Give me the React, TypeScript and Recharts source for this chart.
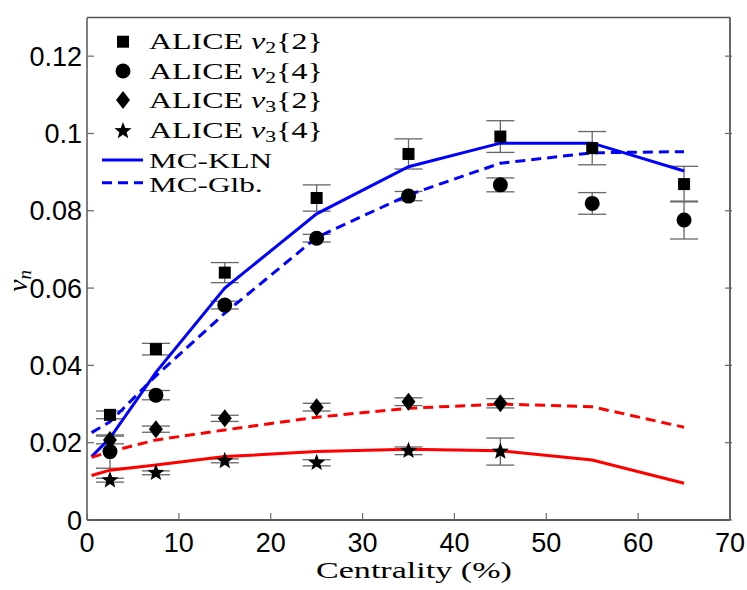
import React from 'react';
import { ComposedChart, XAxis, YAxis, Scatter, Line, ErrorBar } from 'recharts';

// ALICE data (centrality bins)
const centrality = [2.5, 7.5, 15, 25, 35, 45, 55, 65];
const v2of2 = [0.0272, 0.0442, 0.064, 0.0833, 0.0947, 0.0992, 0.0962, 0.0869];
const v2of2Err = [0.001, 0.0015, 0.0026, 0.0034, 0.0039, 0.0041, 0.0043, 0.0046];
const v2of4 = [0.0177, 0.0323, 0.0556, 0.0729, 0.0838, 0.0867, 0.0819, 0.0776];
const v2of4Err = [0.0043, 0.0012, 0.001, 0.001, 0.0012, 0.0018, 0.0028, 0.0049];
const v3Centrality = [2.5, 7.5, 15, 25, 35, 45];
const v3of2 = [0.0207, 0.0235, 0.0263, 0.0292, 0.0306, 0.0302];
const v3of2Err = [0.001, 0.0008, 0.0008, 0.001, 0.001, 0.0012];
const v3of4 = [0.0103, 0.0122, 0.0153, 0.0148, 0.0179, 0.0177];
const v3of4Err = [0.0005, 0.0005, 0.0005, 0.0008, 0.001, 0.0035];

// Model curves
const modelCentrality = [0.5, 2.5, 7.5, 15, 25, 35, 45, 55, 65];
const klnV2 = [0.0164, 0.0212, 0.0382, 0.06, 0.0792, 0.0914, 0.0975, 0.0975, 0.0903];
const glbV2 = [0.0226, 0.0254, 0.0373, 0.0535, 0.0731, 0.0841, 0.0923, 0.095, 0.0953];
const klnV3 = [0.0115, 0.0129, 0.0142, 0.0164, 0.0177, 0.0183, 0.0179, 0.0155, 0.0095];
const glbV3 = [0.0162, 0.0177, 0.0207, 0.0233, 0.0266, 0.0289, 0.03, 0.0293, 0.024];

const xTicks = [0, 10, 20, 30, 40, 50, 60, 70];
const yTicks = [0, 0.02, 0.04, 0.06, 0.08, 0.1, 0.12];

const toPoints = (xs: number[], ys: number[], errs?: number[]) =>
  xs.map((x, i) => ({ x, y: ys[i], err: errs ? errs[i] : 0 }));

const W = 747;
const H = 590;
const PL = 87;
const PR = 724;
const PT = 17.5;
const PB = 520;

const SANS = 'Liberation Sans, Arial, Helvetica, sans-serif';
const SERIF = 'Liberation Serif, Times New Roman, serif';

const fmtY = (v: number) => (v === 0 ? '0' : String(+v.toFixed(2)));

const LeftTick = (props: any) => {
  const { y, payload } = props;
  return (
    <g>
      <line x1={PL} x2={PL + 7} y1={y} y2={y} stroke="#666" strokeWidth={1.2} />
      <text x={PL - 5} y={y + 9.5} textAnchor="end" fontFamily={SANS} fontSize={27} fill="#000">
        {fmtY(payload.value)}
      </text>
    </g>
  );
};

const RightTick = (props: any) => {
  const { y, x } = props;
  return <line x1={x - 7} x2={x} y1={y} y2={y} stroke="#666" strokeWidth={1.2} />;
};

const BottomTick = (props: any) => {
  const { x, payload } = props;
  return (
    <g>
      <line x1={x} x2={x} y1={PB} y2={PB - 7} stroke="#666" strokeWidth={1.2} />
      <text x={x} y={552} textAnchor="middle" fontFamily={SANS} fontSize={27} fill="#000">
        {payload.value}
      </text>
    </g>
  );
};

const TopTick = (props: any) => {
  const { x } = props;
  return <line x1={x} x2={x} y1={PT} y2={PT + 7} stroke="#666" strokeWidth={1.2} />;
};

const SquareShape = (p: any) => (
  <rect x={p.cx - 6} y={p.cy - 6} width={12} height={12} fill="#000" />
);
const CircleShape = (p: any) => <circle cx={p.cx} cy={p.cy} r={7.5} fill="#000" />;
const DiamondShape = (p: any) => (
  <polygon
    points={`${p.cx},${p.cy - 9} ${p.cx + 7},${p.cy} ${p.cx},${p.cy + 9} ${p.cx - 7},${p.cy}`}
    fill="#000"
  />
);
const starPoints = (cx: number, cy: number, R: number, r: number) => {
  const pts: string[] = [];
  for (let i = 0; i < 10; i++) {
    const a = -Math.PI / 2 + (i * Math.PI) / 5;
    const rad = i % 2 === 0 ? R : r;
    pts.push(`${cx + rad * Math.cos(a)},${cy + rad * Math.sin(a)}`);
  }
  return pts.join(' ');
};
const StarShape = (p: any) => <polygon points={starPoints(p.cx, p.cy, 9, 3.8)} fill="#000" />;

const LegendRow = ({ y, main, sub, arg }: { y: number; main: string; sub: string; arg: string }) => (
  <g transform={`translate(149, ${y}) scale(1.36, 1)`}>
    <text x={0} y={0} fontFamily={SERIF} fontSize={23.5} fill="#000">
      {main}
      <tspan fontStyle="italic"> v</tspan>
      <tspan fontSize={16} dy={4}>{sub}</tspan>
      <tspan dy={-4}>{arg}</tspan>
    </text>
  </g>
);

export default function App() {
  const errStyle = { stroke: '#666', strokeWidth: 1.3 };
  return (
    <div style={{ position: 'absolute', left: 0, top: 0, width: W, height: H, background: '#fff' }}>
      <ComposedChart width={W} height={H} margin={{ top: PT - 1, right: W - PR - 7, bottom: 0, left: 0 }}>
        <XAxis
          xAxisId={0}
          dataKey="x"
          type="number"
          domain={[0, 70]}
          ticks={xTicks}
          height={H - PB}
          axisLine={{ stroke: '#222', strokeWidth: 1.5 }}
          tickLine={false}
          tickSize={0}
          tick={<BottomTick />}
          allowDataOverflow
        />
        <XAxis
          xAxisId="t"
          orientation="top"
          type="number"
          domain={[0, 70]}
          ticks={xTicks}
          height={1}
          axisLine={{ stroke: '#555', strokeWidth: 1.3 }}
          tickLine={false}
          tickSize={0}
          tick={<TopTick />}
          allowDataOverflow
        />
        <YAxis
          yAxisId={0}
          dataKey="y"
          type="number"
          domain={[0, 0.13]}
          ticks={yTicks}
          width={PL}
          axisLine={{ stroke: '#808080', strokeWidth: 2 }}
          tickLine={false}
          tickSize={0}
          tick={<LeftTick />}
          allowDataOverflow
        />
        <YAxis
          yAxisId="r"
          orientation="right"
          type="number"
          domain={[0, 0.13]}
          ticks={yTicks}
          width={1}
          axisLine={{ stroke: '#000', strokeWidth: 1.2 }}
          tickLine={false}
          tickSize={0}
          tick={<RightTick />}
          allowDataOverflow
        />

        <Scatter data={toPoints(centrality, v2of2, v2of2Err)} shape={SquareShape} isAnimationActive={false}>
          <ErrorBar dataKey="err" direction="y" width={14} {...errStyle} />
        </Scatter>
        <Scatter data={toPoints(centrality, v2of4, v2of4Err)} shape={CircleShape} isAnimationActive={false}>
          <ErrorBar dataKey="err" direction="y" width={14} {...errStyle} />
        </Scatter>
        <Scatter data={toPoints(v3Centrality, v3of2, v3of2Err)} shape={DiamondShape} isAnimationActive={false}>
          <ErrorBar dataKey="err" direction="y" width={14} {...errStyle} />
        </Scatter>
        <Scatter data={toPoints(v3Centrality, v3of4, v3of4Err)} shape={StarShape} isAnimationActive={false}>
          <ErrorBar dataKey="err" direction="y" width={14} {...errStyle} />
        </Scatter>

        <Line data={toPoints(modelCentrality, klnV2)} dataKey="y" stroke="#0000ff" strokeWidth={3} dot={false} isAnimationActive={false} />
        <Line data={toPoints(modelCentrality, glbV2)} dataKey="y" stroke="#0000ff" strokeWidth={3} strokeDasharray="10 6" dot={false} isAnimationActive={false} />
        <Line data={toPoints(modelCentrality, klnV3)} dataKey="y" stroke="#ff0000" strokeWidth={3} dot={false} isAnimationActive={false} />
        <Line data={toPoints(modelCentrality, glbV3)} dataKey="y" stroke="#ff0000" strokeWidth={3} strokeDasharray="10 6" dot={false} isAnimationActive={false} />
      </ComposedChart>

      <svg width={W} height={H} style={{ position: 'absolute', left: 0, top: 0, pointerEvents: 'none' }}>
        {/* legend */}
        <SquareShape cx={123} cy={41.7} />
        <CircleShape cx={123} cy={71} />
        <DiamondShape cx={123} cy={100} />
        <StarShape cx={123} cy={131} />
        <LegendRow y={49.3} main="ALICE" sub="2" arg="{2}" />
        <LegendRow y={78.7} main="ALICE" sub="2" arg="{4}" />
        <LegendRow y={107.7} main="ALICE" sub="3" arg="{2}" />
        <LegendRow y={137.7} main="ALICE" sub="3" arg="{4}" />
        <line x1={102} x2={143} y1={160} y2={160} stroke="#0000ff" strokeWidth={3} />
        <line x1={102} x2={143} y1={182.7} y2={182.7} stroke="#0000ff" strokeWidth={3} strokeDasharray="10 6" />
        <g transform="translate(149, 167.8) scale(1.42, 1)">
          <text x={0} y={0} fontFamily={SERIF} fontSize={22} fill="#000">MC-KLN</text>
        </g>
        <g transform="translate(149, 191.7) scale(1.42, 1)">
          <text x={0} y={0} fontFamily={SERIF} fontSize={22} fill="#000">MC-Glb.</text>
        </g>

        {/* axis titles */}
        <g transform="translate(316, 578) scale(1.42, 1)">
          <text x={0} y={0} fontFamily={SERIF} fontSize={24} fill="#000">Centrality (%)</text>
        </g>
        <g transform="translate(27, 292) rotate(-90)">
          <text x={0} y={0} fontFamily={SERIF} fontSize={28} fill="#000">
            <tspan fontStyle="italic">v</tspan>
            <tspan fontStyle="italic" fontSize={19} dy={4}>n</tspan>
          </text>
        </g>
      </svg>
    </div>
  );
}
